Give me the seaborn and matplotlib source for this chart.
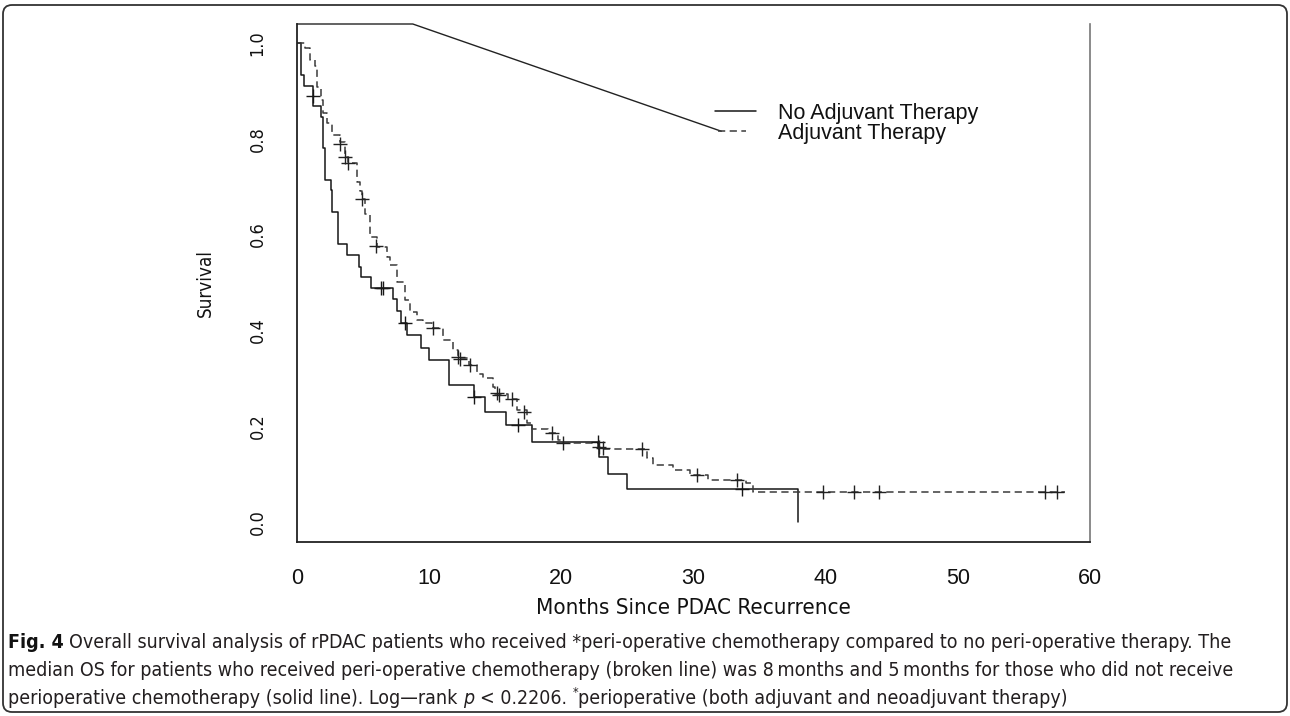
import numpy as np
import pandas as pd
import matplotlib
matplotlib.use("Agg")
import matplotlib.pyplot as plt
import seaborn as sns
from matplotlib import font_manager as fm
from matplotlib.patches import FancyBboxPatch
from matplotlib.lines import Line2D
from matplotlib.transforms import IdentityTransform

# ---------------- data ----------------
no_adj_time = [0, 0.34, 0.53, 1.23, 1.79, 1.99, 2.12, 2.55, 2.65, 3.10, 3.76, 4.69,
               4.84, 5.60, 7.28, 7.54, 7.84, 8.34, 9.38, 10.01, 11.52, 13.41, 14.22,
               15.81, 17.80, 22.84, 23.55, 24.96, 37.87]
no_adj_surv = [1.0, 0.933, 0.910, 0.868, 0.846, 0.780, 0.714, 0.693, 0.647, 0.580,
               0.557, 0.533, 0.511, 0.489, 0.466, 0.441, 0.416, 0.390, 0.364, 0.338,
               0.285, 0.260, 0.230, 0.203, 0.168, 0.135, 0.100, 0.068, 0.0]
no_adj_cens_time = [1.2, 6.35, 6.53, 8.17, 13.41, 16.69, 22.8, 33.7]
no_adj_cens_surv = [0.89, 0.489, 0.489, 0.416, 0.260, 0.203, 0.168, 0.068]

adj_time = [0, 0.61, 0.98, 1.36, 1.54, 1.79, 1.99, 2.25, 2.62, 3.25, 3.63, 3.88,
            4.56, 4.80, 4.95, 5.14, 5.52, 6.03, 6.79, 7.03, 7.54, 8.09, 8.17, 8.55,
            9.05, 9.55, 10.20, 11.07, 11.82, 12.15, 13.00, 13.59, 14.09, 14.85, 15.00,
            16.00, 16.62, 17.38, 17.75, 19.00, 19.64, 19.77, 20.00, 22.80, 23.20,
            26.45, 26.95, 28.47, 29.70, 31.10, 34.00, 34.50, 58.10]
adj_surv = [1.0, 0.989, 0.965, 0.951, 0.909, 0.881, 0.853, 0.832, 0.808, 0.794,
            0.763, 0.749, 0.710, 0.690, 0.674, 0.644, 0.596, 0.575, 0.554, 0.537,
            0.502, 0.498, 0.463, 0.439, 0.422, 0.415, 0.404, 0.380, 0.359, 0.342,
            0.328, 0.310, 0.300, 0.282, 0.267, 0.257, 0.234, 0.206, 0.194, 0.185,
            0.182, 0.171, 0.164, 0.157, 0.153, 0.133, 0.118, 0.109, 0.098, 0.088,
            0.081, 0.063, 0.063]
adj_cens_time = [3.25, 3.63, 3.88, 4.89, 5.98, 10.26, 12.2, 12.33, 13.09, 15.1, 15.3,
                 16.24, 17.17, 19.27, 20.14, 22.87, 23.12, 26.07, 30.23, 33.3, 39.8,
                 42.16, 44.0, 56.6, 57.5]
adj_cens_surv = [0.79, 0.763, 0.749, 0.674, 0.577, 0.404, 0.344, 0.340, 0.328, 0.269,
                 0.265, 0.257, 0.230, 0.185, 0.164, 0.157, 0.155, 0.152, 0.098, 0.088,
                 0.063, 0.063, 0.063, 0.063, 0.063]

series_labels = ["No Adjuvant Therapy", "Adjuvant Therapy"]
x_ticks = [0, 10, 20, 30, 40, 50, 60]
y_ticks = [0.0, 0.2, 0.4, 0.6, 0.8, 1.0]
y_tick_labels = ["0.0", "0.2", "0.4", "0.6", "0.8", "1.0"]
x_label = "Months Since PDAC Recurrence"
y_label = "Survival"
caption_1 = "Overall survival analysis of rPDAC patients who received *peri-operative chemotherapy compared to no peri-operative therapy. The"
caption_2 = "median OS for patients who received peri-operative chemotherapy (broken line) was 8\u2009months and 5\u2009months for those who did not receive"
caption_3a = "perioperative chemotherapy (solid line). Log\u2014rank"
caption_3b = "< 0.2206."
caption_3c = "perioperative (both adjuvant and neoadjuvant therapy)"

# ---------------- style ----------------
sns.set_style("white")
plt.rcParams["font.family"] = ["Liberation Sans", "DejaVu Sans"]
plt.rcParams["lines.scale_dashes"] = False

names = {f.name for f in fm.fontManager.ttflist}
if "Liberation Sans Narrow" in names:
    NARROW = dict(family=["Liberation Sans Narrow", "DejaVu Sans"])
else:
    NARROW = dict(family=["DejaVu Sans"], fontstretch="condensed")

SOLID_C = "#161616"
DASH_C = "#3a3a3a"
DASH = (0, (5.2, 3.2))

W, H = 1290, 716
fig = plt.figure(figsize=(W / 100, H / 100), dpi=100)
ax = fig.add_axes([297 / W, 1 - 542 / H, (1090 - 297) / W, (542 - 24) / H])

df_no = pd.DataFrame({"t": no_adj_time, "s": no_adj_surv})
df_ad = pd.DataFrame({"t": adj_time, "s": adj_surv})
df_no_c = pd.DataFrame({"t": no_adj_cens_time, "s": no_adj_cens_surv})
df_ad_c = pd.DataFrame({"t": adj_cens_time, "s": adj_cens_surv})

sns.lineplot(data=df_no, x="t", y="s", ax=ax, drawstyle="steps-post", estimator=None,
             sort=False, color=SOLID_C, linewidth=1.1)
sns.lineplot(data=df_ad, x="t", y="s", ax=ax, drawstyle="steps-post", estimator=None,
             sort=False, color=DASH_C, linewidth=1.1, linestyle=DASH)
sns.scatterplot(data=df_no_c, x="t", y="s", ax=ax, marker="+", s=115, color=SOLID_C,
                linewidth=1.0, zorder=3)
sns.scatterplot(data=df_ad_c, x="t", y="s", ax=ax, marker="+", s=115, color="#222222",
                linewidth=1.0, zorder=3)

ax.set_xlim(0, 60)
ax.set_ylim(-0.0417, 1.0396)
ax.set_xticks(x_ticks)
ax.set_xticklabels([str(v) for v in x_ticks], fontsize=15.5)
ax.set_yticks(y_ticks)
ax.set_yticklabels(y_tick_labels, rotation=90, va="center", fontsize=13, **NARROW)
ax.tick_params(axis="x", direction="out", length=6, width=1.0, pad=13, colors="#111111")
ax.tick_params(axis="y", direction="out", length=10, width=1.0, pad=12, colors="#111111")
ax.set_xlabel("")
ax.set_ylabel("")

for side in ["left", "bottom"]:
    ax.spines[side].set_color("#222222")
    ax.spines[side].set_linewidth(1.3)
ax.spines["right"].set_color("#777777")
ax.spines["right"].set_linewidth(1.2)
ax.spines["top"].set_visible(False)

# top frame piece and stray diagonal
ax.plot([0, 0.146, 0.535], [1, 1, 0.793], transform=ax.transAxes, color="#222222",
        linewidth=1.0, clip_on=False)

ax.text(0.5, (542 - 608) / 518, x_label, transform=ax.transAxes, ha="center", va="center",
        fontsize=16, color="#111111", **NARROW)
ax.text((205 - 297) / 793, 0.5, y_label, transform=ax.transAxes, ha="center", va="center",
        rotation=90, fontsize=13.5, color="#111111", **NARROW)

# legend (drawn as a key in pixel space)
for (x0, x1, yy), lab, kw in zip([(715, 756, 111), (718, 746, 131)], series_labels,
                                 [dict(color=SOLID_C), dict(color=DASH_C, linestyle=DASH)]):
    fig.add_artist(Line2D([x0, x1], [H - yy, H - yy], transform=IdentityTransform(),
                          linewidth=1.1, **kw))
    fig.text(778 / W, 1 - yy / H, lab, ha="left", va="center_baseline", fontsize=15.5,
             color="#111111")

# ---------------- caption ----------------
fig.canvas.draw()
renderer = fig.canvas.get_renderer()

def width_of(s, **kw):
    t = fig.text(0, 0, s, **kw)
    w = t.get_window_extent(renderer).width
    t.remove()
    return w

cap_kw = dict(**NARROW, color="#231f20")
base = 10.0
w2 = width_of(caption_2, fontsize=base, **cap_kw)
cap_fs = base * (1223 / w2)
space = width_of("x x", fontsize=cap_fs, **cap_kw) - width_of("xx", fontsize=cap_fs, **cap_kw)

def rich(x, y, segs):
    for s, kw in segs:
        if s == " ":
            x += space
            continue
        dy = kw.pop("dy", 0)
        t = fig.text(x / W, 1 - (y - dy) / H, s, ha="left", va="baseline", **kw)
        x += t.get_window_extent(renderer).width

bold_kw = dict(cap_kw, fontweight="bold", color="#111111")
rich(8, 648, [("Fig. 4", dict(fontsize=cap_fs, **bold_kw)), (" ", None),
              (caption_1, dict(fontsize=cap_fs, **cap_kw))])
rich(8, 676, [(caption_2, dict(fontsize=cap_fs, **cap_kw))])
rich(8, 704, [(caption_3a, dict(fontsize=cap_fs, **cap_kw)), (" ", None),
              ("p", dict(fontsize=cap_fs, fontstyle="italic", **cap_kw)), (" ", None),
              (caption_3b, dict(fontsize=cap_fs, **cap_kw)), (" ", None),
              ("*", dict(fontsize=cap_fs * 0.65, dy=8, **cap_kw)),
              (caption_3c, dict(fontsize=cap_fs, **cap_kw))])

# rounded outer frame (pixel coordinates)
frame = FancyBboxPatch((3, 4), 1284, 707, boxstyle="round,pad=0,rounding_size=9",
                       transform=IdentityTransform(), fill=False, edgecolor="#333333",
                       linewidth=1.3)
fig.patches.append(frame)

fig.savefig("out.png", dpi=100)
